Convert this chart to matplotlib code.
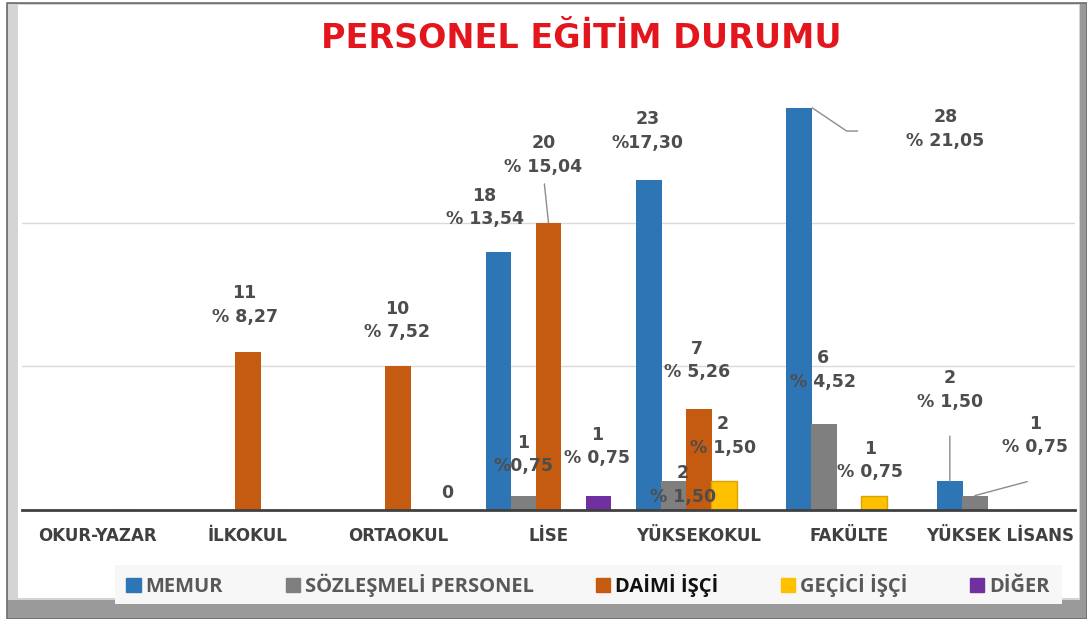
import matplotlib.pyplot as plt
from matplotlib.patches import Rectangle

# Data
categories = ['OKUR-YAZAR', 'İLKOKUL', 'ORTAOKUL', 'LİSE', 'YÜKSEKOKUL', 'FAKÜLTE', 'YÜKSEK LİSANS']
series_names = ['MEMUR', 'SÖZLEŞMELİ PERSONEL', 'DAİMİ İŞÇİ', 'GEÇİCİ İŞÇİ', 'DİĞER']
memur = [0, 0, 0, 18, 23, 28, 2]
sozlesmeli = [0, 0, 0, 1, 2, 6, 1]
daimi = [0, 11, 10, 20, 7, 0, 0]
gecici = [0, 0, 0, 0, 2, 1, 0]
diger = [0, 0, 0, 1, 0, 0, 0]
series = [memur, sozlesmeli, daimi, gecici, diger]
colors = ['#2E75B6', '#7F7F7F', '#C55A11', '#FFC000', '#7030A0']

# data labels: (series, category, percent text)
label_items = [
    (2, 1, '% 8,27'),
    (2, 2, '% 7,52'),
    (4, 2, ''),
    (0, 3, '% 13,54'),
    (1, 3, '%0,75'),
    (2, 3, '% 15,04'),
    (4, 3, '% 0,75'),
    (0, 4, '%17,30'),
    (1, 4, '% 1,50'),
    (2, 4, '% 5,26'),
    (3, 4, '% 1,50'),
    (0, 5, '% 21,05'),
    (1, 5, '% 4,52'),
    (3, 5, '% 0,75'),
    (0, 6, '% 1,50'),
    (1, 6, '% 0,75'),
]
# offset of each label from its bar top in pixels
label_offsets = [
    (-3, 47), (-1, 46), (-1, 17),
    (-14, 44), (0, 41), (-5, 68), (-1, 49),
    (-1, 49), (9, -4), (-2, 49), (-1, 45),
    (133, -21), (-1, 54), (-4, 35),
    (0, 91), (60, 60),
]
# leader lines: label index -> (gap, relpos, connection, attach to bar right edge)
leaders = {
    5: (4, (0.5, 0), 'arc3', False),
    11: (33, (0, 0.45), 'angle,angleA=0,angleB=-34,rad=0', True),
    14: (16, (0.5, 0), 'arc3', False),
    15: (17, (0.5, 0), 'angle,angleA=-90,angleB=15,rad=0', False),
}

W, H = 1087, 619
fig = plt.figure(figsize=(W / 100, H / 100), dpi=100, facecolor='white')

# picture frame
def px_rect(x0, y0, x1, y1, **kw):
    fig.patches.append(Rectangle((x0 / W, 1 - y1 / H), (x1 - x0) / W, (y1 - y0) / H,
                                 transform=fig.transFigure, zorder=-10, **kw))

px_rect(7, 3, 1087, 619, facecolor='#9a9a9a', edgecolor='#6e6e6e', lw=1.2)
px_rect(8, 4, 1080, 600, facecolor='#d4d4d4', edgecolor='none')
px_rect(18, 5, 1079, 598, facecolor='white', edgecolor='none')
px_rect(115, 565, 1062, 604, facecolor='#f7f7f7', edgecolor='none')

ax = fig.add_axes([22 / W, 1 - 510 / H, (1075 - 22) / W, (510 - 86.4) / H])
ax.set_facecolor('none')

step = 0.166
width = 0.172
for s, vals in enumerate(series):
    xs = [i + (s - 2) * step for i in range(len(categories))]
    ax.bar(xs, vals, width=width, color=colors[s], zorder=3,
           edgecolor='#d9a300' if s == 3 else 'none', linewidth=1)

ax.set_xlim(-0.5, 6.5)
ax.set_ylim(0, 29.5)
ax.set_yticks([10, 20])
ax.yaxis.grid(True, color='#d9d9d9', lw=1)
ax.tick_params(axis='y', left=False, labelleft=False)
ax.tick_params(axis='x', length=0, pad=12)
ax.set_xticks(range(len(categories)))
ax.set_xticklabels(categories, fontweight='bold', fontsize=12, color='#404040')
for sp in ['left', 'right', 'top']:
    ax.spines[sp].set_visible(False)
ax.spines['bottom'].set_color('#404040')
ax.spines['bottom'].set_linewidth(2)
ax.spines['bottom'].set_zorder(4)

# data labels
for k, ((s, c, pct), (dx, dy)) in enumerate(zip(label_items, label_offsets)):
    v = series[s][c]
    x = c + (s - 2) * step
    text = str(v) if pct == '' else f'{v}\n{pct}'
    xy = (x, v)
    arrow = None
    if k in leaders:
        gap, rel, conn, right_edge = leaders[k]
        if right_edge:
            xy = (x + width / 2, v)
        arrow = dict(arrowstyle='-', color='#8c8c8c', lw=1, shrinkA=gap, shrinkB=0,
                     relpos=rel, connectionstyle=conn)
    ax.annotate(text, xy=xy, xytext=(dx, dy), textcoords='offset pixels',
                ha='center', va='center', fontsize=12.5, fontweight='bold',
                color='#4d4d4d', linespacing=1.4, arrowprops=arrow, zorder=5,
                annotation_clip=False)

# title
fig.text(581 / W, 1 - 38 / H, 'PERSONEL EĞİTİM DURUMU', ha='center', va='center',
         fontsize=24, fontweight='bold', color='#E3161E')

# legend
handles = [Rectangle((0, 0), 1, 1, color=c) for c in colors]
leg = fig.legend(handles, series_names, ncol=5, loc='center',
                 bbox_to_anchor=(588 / W, 1 - 585 / H), frameon=False,
                 handlelength=0.7, handleheight=0.7, handletextpad=0.25,
                 columnspacing=3.1,
                 prop={'family': ['Open Sans', 'DejaVu Sans'], 'weight': 'bold', 'size': 14.5})
for i, t in enumerate(leg.get_texts()):
    t.set_color('#111111' if i == 2 else '#595959')

fig.savefig('out.png', dpi=100)
